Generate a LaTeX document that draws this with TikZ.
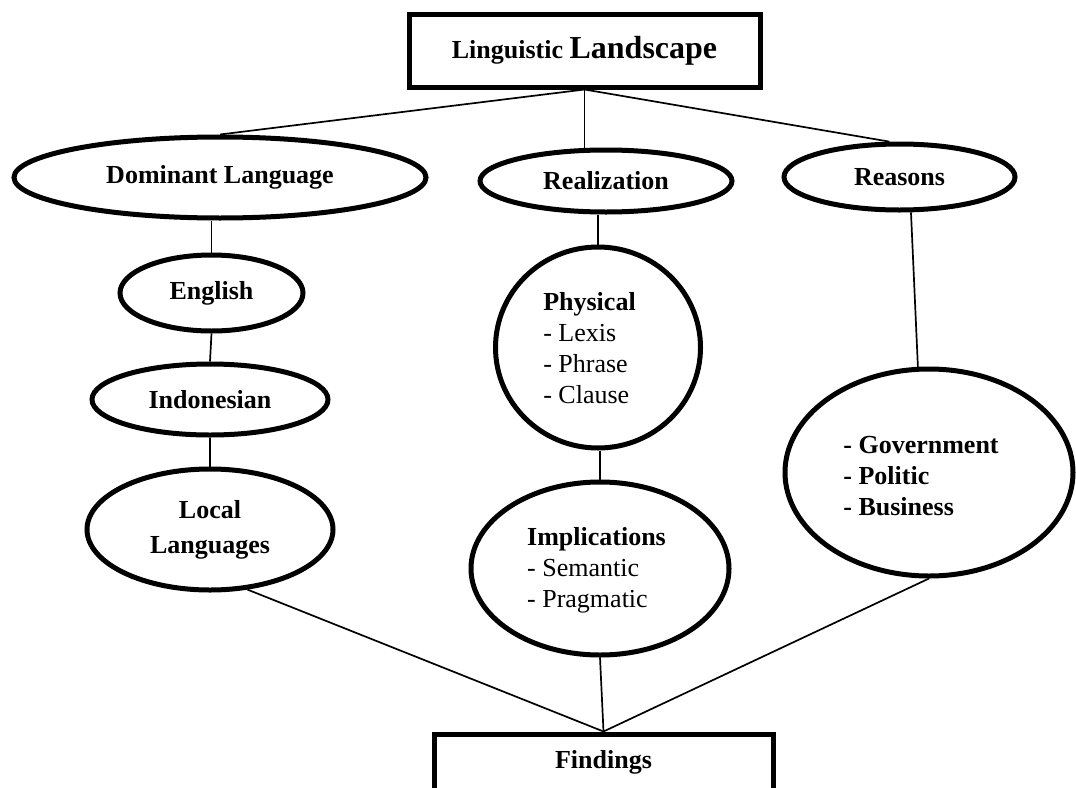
\documentclass[tikz,border=0pt]{standalone}
\usepackage{fontspec}
\setmainfont{Liberation Serif}
\usetikzlibrary{shapes.geometric}
\begin{document}
\begin{tikzpicture}[x=1pt,y=-1pt,
  oval/.style={ellipse, draw, line width=5pt, inner sep=0pt, align=center,
    font=\bfseries\fontsize{26}{31}\selectfont},
  boxnode/.style={rectangle, draw, line width=5pt, inner sep=0pt},
  listtxt/.style={inner sep=0pt, align=left, font=\fontsize{26}{31}\selectfont},
  boldtxt/.style={inner sep=0pt, align=center, font=\bfseries\fontsize{26}{31}\selectfont},
  conn/.style={line width=1.7pt}]
\useasboundingbox (0,0) rectangle (1076,787);
\begin{scope}
\clip (0,0) rectangle (1076,787);
% top box
\node[boxnode, minimum width=351, minimum height=73] (top) at (584.5,50.5)
  {\bfseries\fontsize{26}{31}\selectfont Linguistic \fontsize{32}{36}\selectfont Landscape};
% first level
\node[oval, minimum width=412, minimum height=81] (dom) at (220,177.5) {Dominant Language};
\node[oval, minimum width=252, minimum height=62] (real) at (606,181) {Realization};
\node[oval, minimum width=231, minimum height=66] (reas) at (899.5,177) {Reasons};
% left column
\node[oval, minimum width=183, minimum height=76] (eng) at (211.5,293) {English};
\node[oval, minimum width=236, minimum height=71] (ind) at (210,399.5) {Indonesian};
\node[oval, minimum width=246, minimum height=121,
  font=\bfseries\fontsize{26}{35}\selectfont] (loc) at (210,529.5) {Local\\Languages};
% middle column
\node[oval, minimum width=205, minimum height=201] (phys) at (598,347.5) {};
\node[listtxt] (physt) at (589.5,348) {\textbf{Physical}\\- Lexis\\- Phrase\\- Clause};
\node[oval, minimum width=258, minimum height=173] (impl) at (600,568.5) {};
\node[listtxt] (implt) at (596.5,570) {\textbf{Implications}\\- Semantic\\- Pragmatic};
% right column
\node[oval, minimum width=288, minimum height=207] (gov) at (929,472.5) {};
\node[listtxt, font=\bfseries\fontsize{26}{31}\selectfont] (govt) at (921,476)
  {- Government\\- Politic\\- Business};
% bottom box
\node[boxnode, minimum width=339, minimum height=70] (find) at (603.5,769) {};
\node[boldtxt] (findt) at (603.5,762) {Findings};
% connectors
\draw[conn] (top.south) -- (dom.north);
\draw[conn] (top.south) -- (top.south |- real.north);
\draw[conn] (top.south) -- (reas.106);
\draw[conn] (eng.north |- dom.south) -- (eng.north);
\draw[conn] (eng.south) -- (ind.north);
\draw[conn] (ind.south) -- (loc.north);
\draw[conn] (phys.north |- real.south) -- (phys.north);
\draw[conn] (impl.north |- phys.south) -- (impl.north);
\draw[conn] (reas.-72) -- (gov.96);
\draw[conn] (loc.-58) -- (find.north);
\draw[conn] (impl.south) -- (find.north);
\draw[conn] (gov.south) -- (find.north);
\end{scope}
\end{tikzpicture}
\end{document}
